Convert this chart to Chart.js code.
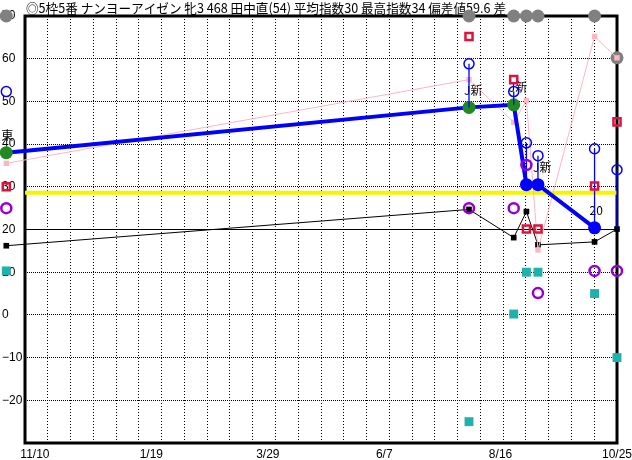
<!DOCTYPE html>
<html><head><meta charset="utf-8">
<script src="https://cdn.jsdelivr.net/npm/chart.js@4"></script>
<style>html,body{margin:0;padding:0;background:#fff}canvas{display:block}</style>
</head><body>
<canvas id="c" width="632" height="460"></canvas>
<script>
// ---- data ----
const titleText = "◎5枠5番 ナンヨーアイゼン 牝3 468 田中直(54) 平均指数30 最高指数34 偏差値59.6 差";
const raceDays = [-11.5, 273, 300.5, 308.3, 315.4, 350.2, 364];   // days from axis start
const raceLabels = ["東", "J新", "J新", "", "J新", "20", ""];
const trackType = ["A", "A", "A", "B", "B", "B", ""];
const mainIndex = [38, 48.6, 49.2, 30.5, 30.5, 20.4, null];
const maxIndex = [52.3, 58.8, 52.3, 40.3, 37.3, 38.9, 34];
const lastRaceLow = 20.5;
const pinkSeries = [35.5, 55.1, 45.1, 50.2, 15.2, 65.2, 60.2];
const blackSeries = [16.2, 24.7, 18.1, 24.2, 16.4, 17.1, 20.1];
const redSeries = [30, 65.2, 55.1, 20.1, 20.1, 30.2, 45.2];
const purpleSeries = [25, 25, 25, 35.1, 5.1, 10.3, 10.3];
const tealSeries = [10.3, -25, 0.2, 10, 10, 5, -10];
const greySeries = [70, 70, 70, 70, 70, 70, 60.2];
const avgLine = 28.6;
const baseLine = 20;
const xTickLabels = ["11/10", "1/19", "3/29", "6/7", "8/16", "10/25"];
const xTickDays = [6.1, 77.7, 149.3, 220.9, 292.4, 364];
const xMin = 0, xMax = 364, gridDays = 14;
const yMin = -30, yMax = 70, yStep = 10;

// ---- build ----
const pts = arr => raceDays.map((d, i) => ({x: d, y: arr[i]}));
const vSegs = [];
raceDays.forEach((d, i) => {
  const low = mainIndex[i] == null ? lastRaceLow : mainIndex[i];
  vSegs.push({x: d, y: low}, {x: d, y: maxIndex[i]}, {x: d, y: null});
});
const typeColor = {A: "#1f8a1f", B: "#0000ff"};
const TRANS = "rgba(0,0,0,0)";

const decor = {
  id: "decor",
  beforeDatasetsDraw(chart) {
    const {ctx, chartArea: a, scales} = chart;
    ctx.save();
    ctx.strokeStyle = "#000";
    ctx.lineWidth = 3;
    ctx.strokeRect(a.left, a.top, a.right - a.left, a.bottom - a.top);
    ctx.fillStyle = "#000";
    ctx.textBaseline = "middle";
    ctx.textAlign = "left";
    ctx.font = '13px "Noto Sans CJK JP"';
    ctx.fillText(titleText, 26, 8, 480);
    ctx.font = '12px "Noto Sans CJK JP"';
    raceLabels.forEach((t, i) => {
      if (!t || mainIndex[i] == null) return;
      const x = scales.x.getPixelForValue(raceDays[i]);
      const y = scales.y.getPixelForValue(mainIndex[i]);
      ctx.fillText(t, x - 5, y - 17);
    });
    ctx.restore();
    // let marks that sit in the left margin column be drawn too
    chart.$savedArea = {left: a.left, right: a.right, top: a.top, bottom: a.bottom};
    a.left = 0; a.right = chart.width; a.top = 0; a.bottom = chart.height;
  },
  afterDatasetsDraw(chart) {
    const s = chart.$savedArea;
    if (s) Object.assign(chart.chartArea, s);
  }
};

const common = {clip: false, tension: 0};
new Chart(document.getElementById("c"), {
  type: "line",
  data: {
    datasets: [
      {data: [{x: xMin, y: avgLine}, {x: xMax, y: avgLine}], borderColor: "#f5f500", borderWidth: 4, pointRadius: 0, order: 100},
      {data: [{x: xMin, y: baseLine}, {x: xMax, y: baseLine}], borderColor: "#000", borderWidth: 1, pointRadius: 0, order: 99},
      {...common, data: pts(blackSeries), borderColor: "#000", borderWidth: 1, pointStyle: "rect", pointRadius: 4, pointBackgroundColor: "#000", pointBorderWidth: 0, order: 90},
      {...common, data: pts(greySeries), showLine: false, pointRadius: 6.5, pointBackgroundColor: "#808080", pointBorderWidth: 0, order: 88},
      {...common, data: pts(pinkSeries), borderColor: "#ffb6c1", borderWidth: 1, pointStyle: "rect", pointRadius: 3.8, pointBackgroundColor: "#ffb6c1", pointBorderWidth: 0, order: 85},
      {...common, data: pts(mainIndex), borderColor: "#0000ff", borderWidth: 4, pointRadius: 6.5,
        pointBackgroundColor: trackType.map(t => typeColor[t] || TRANS), pointBorderWidth: 0, order: 80},
      {...common, data: vSegs, borderColor: "#0000ff", borderWidth: 1.3, pointRadius: 0, spanGaps: false, order: 75},
      {...common, data: pts(maxIndex), showLine: false, pointRadius: 5, pointBackgroundColor: TRANS, pointBorderColor: "#0000ff", pointBorderWidth: 1.5, order: 70},
      {...common, data: pts(redSeries), showLine: false, pointStyle: "rect", pointRadius: 5, pointBackgroundColor: TRANS, pointBorderColor: "#dc143c", pointBorderWidth: 2.5, order: 65},
      {...common, data: pts(purpleSeries), showLine: false, pointRadius: 5, pointBackgroundColor: TRANS, pointBorderColor: "#9400d3", pointBorderWidth: 2.5, order: 60},
      {...common, data: pts(tealSeries), showLine: false, pointStyle: "rect", pointRadius: 6.3, pointBackgroundColor: "#20b2aa", pointBorderWidth: 0, order: 55}
    ]
  },
  options: {
    responsive: false,
    devicePixelRatio: 1,
    animation: false,
    events: [],
    layout: {padding: {left: 2, right: 15, top: 16, bottom: 0}},
    plugins: {legend: {display: false}, tooltip: {enabled: false}, title: {display: false}},
    scales: {
      x: {
        type: "linear", min: xMin, max: xMax, position: "bottom",
        grid: {display: false, drawTicks: false},
        border: {display: false},
        ticks: {autoSkip: false, maxRotation: 0, minRotation: 0, padding: 4, color: "#000",
          font: {family: "Liberation Sans", size: 12},
          callback: (v, i) => xTickLabels[i]},
        afterBuildTicks: s => { s.ticks = xTickDays.map(v => ({value: v})); },
        afterFit: s => { s.height = 17; s.paddingLeft = 0; s.paddingRight = 0; }
      },
      xg: {
        type: "linear", min: xMin, max: xMax, position: "bottom",
        grid: {display: true, color: "#000", lineWidth: 1, drawTicks: false},
        border: {display: false, dash: [1, 2]},
        ticks: {display: false},
        afterBuildTicks: s => { const t = []; for (let v = xMin; v <= xMax; v += gridDays) t.push({value: v}); s.ticks = t; },
        afterFit: s => { s.height = 0; s.paddingLeft = 0; s.paddingRight = 0; }
      },
      y: {
        type: "linear", min: yMin, max: yMax,
        grid: {display: true, color: "#000", lineWidth: 1, drawTicks: false},
        border: {display: false, dash: [1, 1]},
        ticks: {stepSize: yStep, crossAlign: "far", padding: 0, color: "#000",
          font: {family: "Liberation Sans", size: 12},
          callback: v => v === yMin ? "" : String(v).replace("-", "\u2212")},
        afterFit: s => { s.width = 23; s.paddingTop = 0; s.paddingBottom = 0; }
      }
    }
  },
  plugins: [decor]
});
</script>
</body></html>
